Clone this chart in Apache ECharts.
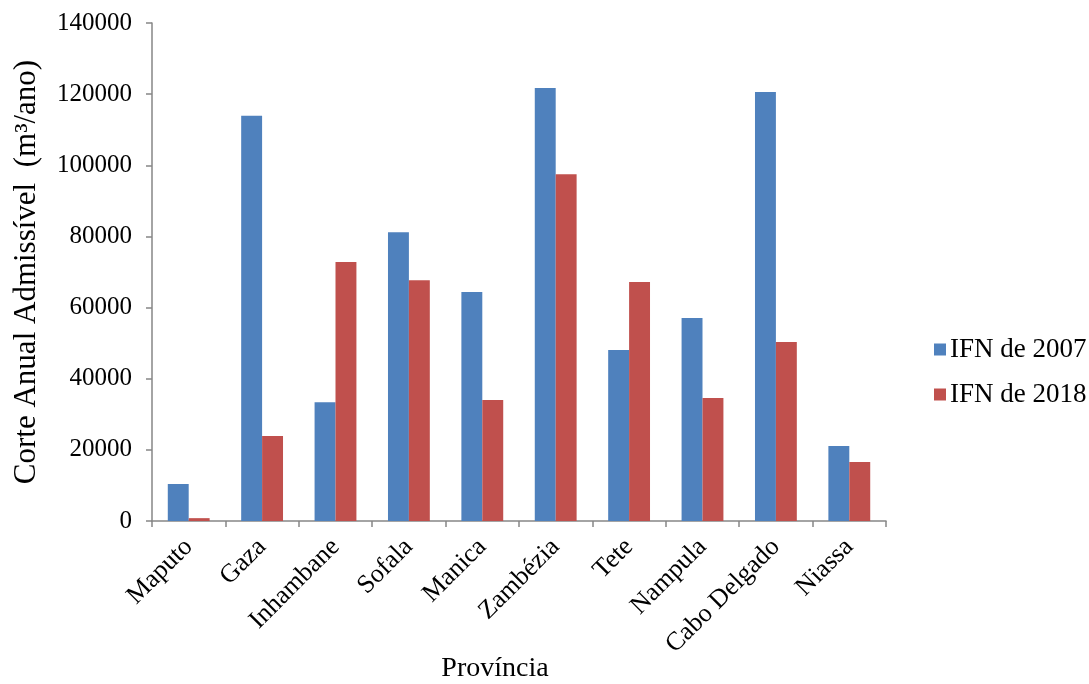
<!DOCTYPE html>
<html>
<head>
<meta charset="utf-8">
<script src="https://cdn.jsdelivr.net/npm/echarts@6/dist/echarts.min.js"></script>
<style>html,body{margin:0;padding:0;background:#fff}#c{width:1089px;height:684px}</style>
</head>
<body>
<div id="c"></div>
<script>
const categories = ['Maputo','Gaza','Inhambane','Sofala','Manica','Zambézia','Tete','Nampula','Cabo Delgado','Niassa'];
const ifn2007 = [10400, 113900, 33400, 81200, 64400, 121700, 48100, 57100, 120600, 21100];
const ifn2018 = [800, 23900, 72800, 67700, 34000, 97500, 67200, 34600, 50300, 16600];
const yTicks = [0, 20000, 40000, 60000, 80000, 100000, 120000, 140000];

const font = 'Liberation Serif';
const axisColor = '#868686';
const chart = echarts.init(document.getElementById('c'));
chart.setOption({
  animation: false,
  textStyle: {fontFamily: font, color: '#000'},
  grid: {left: 152, right: 203, top: 23, bottom: 163, containLabel: false, outerBoundsMode: 'none'},
  legend: {
    orient: 'vertical', left: 929, top: 331,
    itemWidth: 12, itemHeight: 12, itemGap: 18,
    icon: 'rect',
    textStyle: {fontFamily: font, fontSize: 27, color: '#000', padding: [0,0,0,-1]},
    data: ['IFN de 2007', 'IFN de 2018']
  },
  xAxis: {
    type: 'category', data: categories,
    name: 'Província', nameLocation: 'middle', nameGap: 134, nameMoveOverlap: false,
    nameTextStyle: {fontFamily: font, fontSize: 28, color: '#000', padding: [0, 48, 0, 0]},
    axisLine: {lineStyle: {color: axisColor, width: 1.5}},
    axisTick: {show: true, length: 6, lineStyle: {color: axisColor, width: 1.5}},
    axisLabel: {rotate: 45, fontFamily: font, fontSize: 26, color: '#000', margin: 22, interval: 0,
                padding: [0, 0, 0, 0]}
  },
  yAxis: {
    type: 'value', min: yTicks[0], max: yTicks[yTicks.length-1], interval: 20000,
    name: 'Corte Anual Admissível  (m³/ano)', nameLocation: 'middle', nameGap: 110, nameMoveOverlap: false,
    nameTextStyle: {fontFamily: font, fontSize: 31, color: '#000'},
    axisLine: {show: true, lineStyle: {color: axisColor, width: 1.5}},
    axisTick: {show: true, length: 6, lineStyle: {color: axisColor, width: 1.5}},
    splitLine: {show: false},
    axisLabel: {fontFamily: font, fontSize: 25, color: '#000', margin: 20,
                formatter: v => String(v)}
  },
  series: [
    {name: 'IFN de 2007', type: 'bar', data: ifn2007, barGap: '0%', barCategoryGap: '43%',
     itemStyle: {color: '#4F81BD'}},
    {name: 'IFN de 2018', type: 'bar', data: ifn2018, barGap: '0%', barCategoryGap: '43%',
     itemStyle: {color: '#C0504D'}}
  ]
});
</script>
</body>
</html>
